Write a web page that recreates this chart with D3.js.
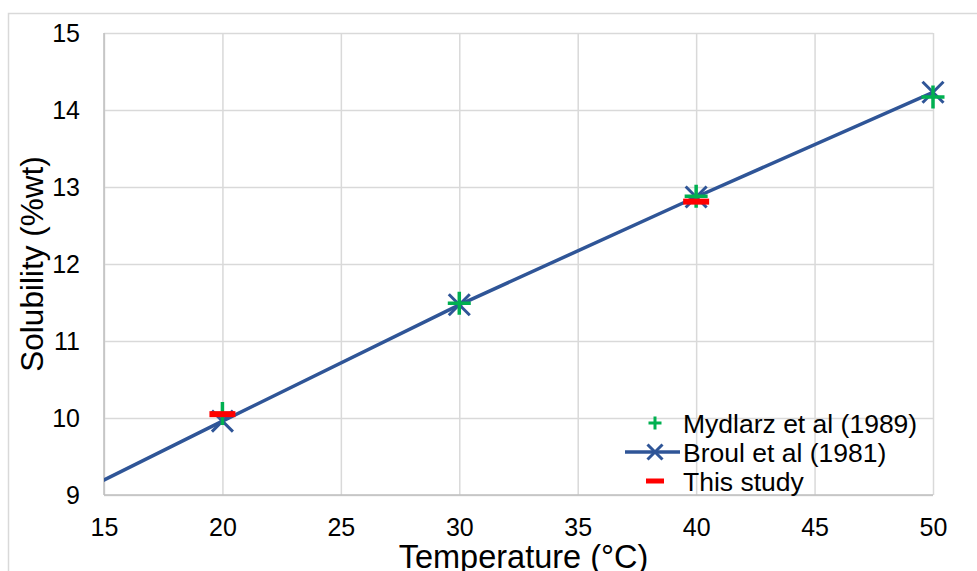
<!DOCTYPE html>
<html>
<head>
<meta charset="utf-8">
<script src="https://cdn.jsdelivr.net/npm/d3@7"></script>
<style>
  body { margin: 0; background: #fff; }
  svg { display: block; font-family: "Liberation Sans", Arial, sans-serif; }
</style>
</head>
<body>
<div id="chart"></div>
<script>
// series data
const mydlarzT = [20, 30, 40, 50];
const mydlarzS = [10.06, 11.49, 12.88, 14.17];
const broulT = [10, 20, 30, 40, 50];
const broulS = [8.43, 9.96, 11.47, 12.87, 14.23];
const studyT = [20, 40];
const studyS = [10.05, 12.81];
const xTicks = [15, 20, 25, 30, 35, 40, 45, 50];
const yTicks = [9, 10, 11, 12, 13, 14, 15];

const W = 977, H = 571;
const plot = { left: 104, right: 933, top: 33, bottom: 495 };

const svg = d3.select("#chart").append("svg")
  .attr("width", W).attr("height", H);

svg.append("rect")
  .attr("x", 8.5).attr("y", 13.5)
  .attr("width", W).attr("height", H)
  .attr("fill", "#fff").attr("stroke", "#d9d9d9").attr("stroke-width", 1.5);

const x = d3.scaleLinear().domain([15, 50]).range([plot.left, plot.right]);
const y = d3.scaleLinear().domain([9, 15]).range([plot.bottom, plot.top]);

svg.append("clipPath").attr("id", "clip")
  .append("rect")
  .attr("x", plot.left).attr("y", plot.top)
  .attr("width", plot.right - plot.left).attr("height", plot.bottom - plot.top);

// gridlines
svg.append("g")
  .attr("transform", `translate(0,${plot.bottom})`)
  .call(d3.axisBottom(x).tickValues(xTicks).tickSize(-(plot.bottom - plot.top)).tickFormat(""))
  .call(g => g.select(".domain").remove())
  .selectAll("line").attr("stroke", "#d9d9d9").attr("stroke-width", 1.5);

svg.append("g")
  .attr("transform", `translate(${plot.left},0)`)
  .call(d3.axisLeft(y).tickValues(yTicks).tickSize(-(plot.right - plot.left)).tickFormat(""))
  .call(g => g.select(".domain").remove())
  .selectAll("line").attr("stroke", "#d9d9d9").attr("stroke-width", 1.5);

// axis lines
svg.append("line")
  .attr("x1", plot.left).attr("x2", plot.left)
  .attr("y1", plot.top).attr("y2", plot.bottom)
  .attr("stroke", "#bfbfbf").attr("stroke-width", 1.5);
svg.append("line")
  .attr("x1", plot.left).attr("x2", plot.right)
  .attr("y1", plot.bottom).attr("y2", plot.bottom)
  .attr("stroke", "#bfbfbf").attr("stroke-width", 1.5);

// tick labels
svg.append("g")
  .attr("transform", `translate(0,${plot.bottom})`)
  .attr("font-size", 25)
  .attr("font-family", "'Liberation Sans', Arial, sans-serif")
  .call(d3.axisBottom(x).tickValues(xTicks).tickSize(0).tickPadding(23).tickFormat(d3.format("d")))
  .call(g => g.select(".domain").remove())
  .call(g => g.attr("font-size", 25).attr("font-family", "'Liberation Sans', Arial, sans-serif"))
  .selectAll("text")
  .attr("fill", "#000");

svg.append("g")
  .attr("transform", `translate(${plot.left},0)`)
  .call(d3.axisLeft(y).tickValues(yTicks).tickSize(0).tickPadding(24).tickFormat(d3.format("d")))
  .call(g => g.select(".domain").remove())
  .call(g => g.attr("font-size", 25).attr("font-family", "'Liberation Sans', Arial, sans-serif"))
  .selectAll("text")
  .attr("fill", "#000");

// axis titles
svg.append("text")
  .attr("x", (plot.left + plot.right) / 2 + 5)
  .attr("y", 568)
  .attr("text-anchor", "middle")
  .style("font-size", "32.5px")
  .text("Temperature (°C)");

svg.append("text")
  .attr("transform", `translate(43,${(plot.top + plot.bottom) / 2}) rotate(-90)`)
  .attr("text-anchor", "middle")
  .style("font-size", "31.5px")
  .text("Solubility (%wt)");

const blue = "#2f5597", green = "#00b050", red = "#ff0000";

const broul = broulT.map((t, i) => ({ t, s: broulS[i] }));
const mydlarz = mydlarzT.map((t, i) => ({ t, s: mydlarzS[i] }));
const study = studyT.map((t, i) => ({ t, s: studyS[i] }));

const series = svg.append("g").attr("clip-path", "url(#clip)");

series.append("path")
  .datum(broul)
  .attr("fill", "none")
  .attr("stroke", blue)
  .attr("stroke-width", 3.5)
  .attr("d", d3.line().x(d => x(d.t)).y(d => y(d.s)));

const xMark = (g, r, w, color) => {
  g.append("path")
    .attr("d", `M${-r},${-r}L${r},${r}M${-r},${r}L${r},${-r}`)
    .attr("stroke", color).attr("stroke-width", w).attr("fill", "none");
};
const plusMark = (g, r, w, color) => {
  g.append("path")
    .attr("d", `M${-r},0L${r},0M0,${-r}L0,${r}`)
    .attr("stroke", color).attr("stroke-width", w).attr("fill", "none");
};
const dashMark = (g, wd, ht, color) => {
  g.append("rect")
    .attr("x", -wd / 2).attr("y", -ht / 2)
    .attr("width", wd).attr("height", ht)
    .attr("fill", color);
};

svg.append("g").selectAll("g")
  .data(broul.filter(d => d.t >= 15))
  .join("g")
  .attr("transform", d => `translate(${x(d.t)},${y(d.s)})`)
  .each(function () { xMark(d3.select(this), 10.5, 3, blue); });

svg.append("g").selectAll("g")
  .data(mydlarz)
  .join("g")
  .attr("transform", d => `translate(${x(d.t)},${y(d.s)})`)
  .each(function () { plusMark(d3.select(this), 11.5, 3.5, green); });

svg.append("g").selectAll("g")
  .data(study)
  .join("g")
  .attr("transform", d => `translate(${x(d.t)},${y(d.s)})`)
  .each(function () { dashMark(d3.select(this), 26, 6, red); });

// legend
const legend = svg.append("g").attr("transform", "translate(655,423)");
const labels = ["Mydlarz et al (1989)", "Broul et al (1981)", "This study"];
labels.forEach((lab, i) => {
  const row = legend.append("g").attr("transform", `translate(0,${i * 29})`);
  if (i === 0) plusMark(row, 6.5, 3, green);
  if (i === 1) {
    row.append("line").attr("x1", -30).attr("x2", 25).attr("y1", 0).attr("y2", 0)
      .attr("stroke", blue).attr("stroke-width", 3.5);
    xMark(row, 7.5, 3, blue);
  }
  if (i === 2) dashMark(row, 18, 5, red);
  row.append("text")
    .attr("x", 28).attr("y", 0).attr("dy", "0.36em")
    .style("font-size", "26.5px")
    .text(lab);
});
</script>
</body>
</html>
